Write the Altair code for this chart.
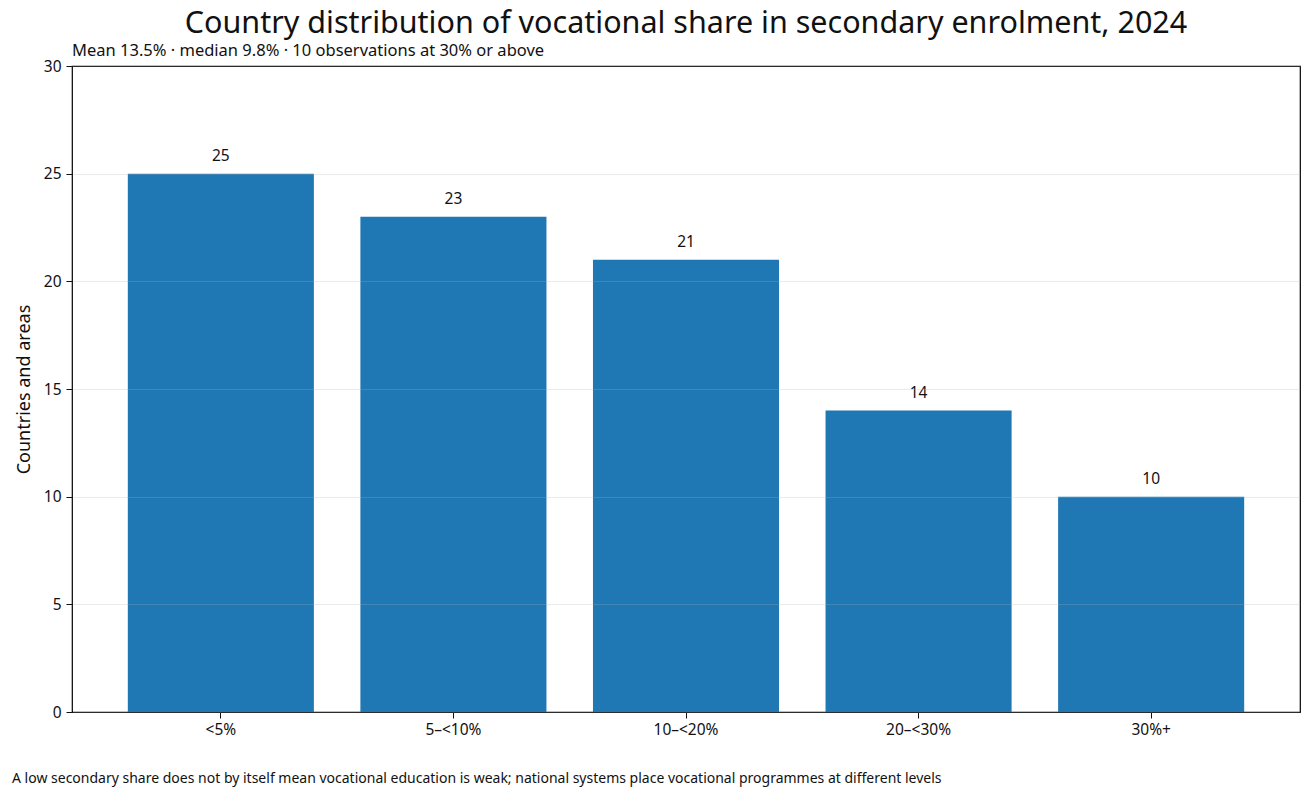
import altair as alt
import pandas as pd

bins = ["<5%", "5–<10%", "10–<20%", "20–<30%", "30%+"]
counts = [25, 23, 21, 14, 10]

TITLE = "Country distribution of vocational share in secondary enrolment, 2024"
SUBTITLE = "Mean 13.5% · median 9.8% · 10 observations at 30% or above"
FOOTNOTE = (
    "A low secondary share does not by itself mean vocational education is weak; "
    "national systems place vocational programmes at different levels"
)

BAR_COLOR = "#1f77b4"
TEXT_COLOR = "#111111"
FONT = "Noto Sans"
PLOT_W, PLOT_H = 1228, 646

df = pd.DataFrame({"bin": bins, "count": counts})

x_enc = alt.X(
    "bin:N",
    sort=bins,
    title=None,
    scale=alt.Scale(paddingInner=0.2, paddingOuter=0.24),
    axis=alt.Axis(labelAngle=0, labelFontSize=15.5, labelPadding=4, tickSize=6,
                  grid=False, domain=False),
)
y_enc = alt.Y(
    "count:Q",
    title="Countries and areas",
    scale=alt.Scale(domain=[0, 30], nice=False),
    axis=alt.Axis(values=[0, 5, 10, 15, 20, 25, 30], labelFontSize=15.5, tickSize=6,
                  labelPadding=5, titleFontSize=18, titleFontWeight="normal",
                  titlePadding=10, gridColor="#b0b0b0", gridOpacity=0.25,
                  domain=False, zindex=1),
)

bars = alt.Chart(df).mark_bar(color=BAR_COLOR).encode(x=x_enc, y=y_enc)

labels = alt.Chart(df).mark_text(
    baseline="alphabetic", dy=-13, fontSize=15.5, font=FONT, color=TEXT_COLOR
).encode(x=alt.X("bin:N", sort=bins), y="count:Q", text="count:Q")

# title, subtitle and footnote as text marks placed around the plot area
title = alt.Chart(pd.DataFrame({"t": [TITLE]})).mark_text(
    align="center", baseline="alphabetic", fontSize=30.5, font=FONT, color=TEXT_COLOR
).encode(x=alt.value(PLOT_W / 2), y=alt.value(-33), text="t:N")

subtitle = alt.Chart(pd.DataFrame({"t": [SUBTITLE]})).mark_text(
    align="left", baseline="alphabetic", fontSize=16.5, font=FONT, color=TEXT_COLOR
).encode(x=alt.value(0), y=alt.value(-10), text="t:N")

footnote = alt.Chart(pd.DataFrame({"t": [FOOTNOTE]})).mark_text(
    align="left", baseline="alphabetic", fontSize=14, font=FONT, color=TEXT_COLOR
).encode(x=alt.value(-60), y=alt.value(717), text="t:N")

chart = (
    alt.layer(bars, labels, title, subtitle, footnote)
    .properties(
        width=PLOT_W,
        height=PLOT_H,
        autosize=alt.AutoSizeParams(type="none"),
        padding={"left": 64, "top": 58, "right": 4, "bottom": 78},
    )
    .configure_view(stroke="#000000", strokeWidth=1.2)
    .configure_axis(labelFont=FONT, titleFont=FONT, labelColor=TEXT_COLOR,
                    titleColor=TEXT_COLOR, tickColor=TEXT_COLOR)
)

chart.save("out.html", embed_options={"renderer": "svg", "actions": False})
